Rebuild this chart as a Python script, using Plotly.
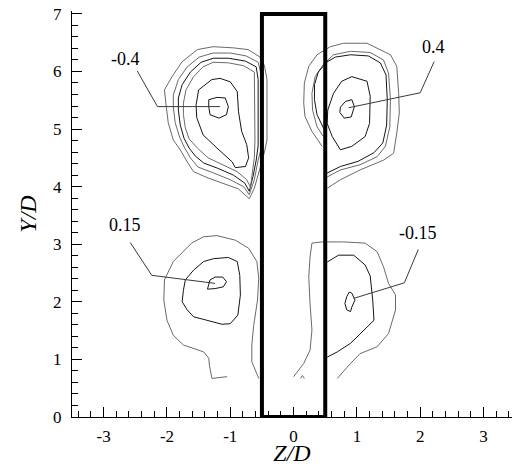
import plotly.graph_objects as go

# ---- axis ticks ----
z_ticks = [-3, -2, -1, 0, 1, 2, 3]
z_tick_text = ["-3", "-2", "-1", "0", "1", "2", "3"]
y_ticks = [0, 1, 2, 3, 4, 5, 6, 7]
y_tick_text = ["0", "1", "2", "3", "4", "5", "6", "7"]

# ---- cylinder body (Z/D extent, Y/D height) ----
body_z = [-0.5, 0.5]
body_y = [0.0, 7.0]

# ---- contour lines, (Z/D, Y/D) pairs ----
# upper-left vortex (negative)
ul_1 = [(-0.53, 6.25), (-0.72, 6.38), (-0.95, 6.41), (-1.27, 6.43), (-1.52, 6.38), (-1.76, 6.17),
        (-1.92, 5.91), (-2.04, 5.68), (-2.01, 5.38), (-1.98, 5.11), (-1.90, 4.81), (-1.79, 4.64),
        (-1.68, 4.43), (-1.58, 4.26), (-1.35, 4.15), (-1.11, 4.06), (-0.87, 3.96), (-0.70, 3.79),
        (-0.62, 3.97), (-0.53, 4.32), (-0.46, 4.60), (-0.42, 4.81), (-0.42, 5.33), (-0.42, 5.86),
        (-0.46, 6.10), (-0.53, 6.25)]
ul_2 = [(-0.56, 6.16), (-0.75, 6.27), (-1.00, 6.32), (-1.27, 6.32), (-1.49, 6.25), (-1.68, 6.08),
        (-1.82, 5.86), (-1.90, 5.59), (-1.90, 5.39), (-1.87, 5.11), (-1.80, 4.86), (-1.73, 4.69),
        (-1.63, 4.50), (-1.51, 4.34), (-1.27, 4.24), (-1.00, 4.12), (-0.79, 4.00), (-0.70, 3.86),
        (-0.62, 4.12), (-0.56, 4.46), (-0.51, 4.67), (-0.51, 5.33), (-0.51, 5.94), (-0.56, 6.16)]
ul_3 = [(-0.59, 6.08), (-0.76, 6.18), (-1.03, 6.23), (-1.27, 6.23), (-1.46, 6.16), (-1.63, 5.99),
        (-1.76, 5.77), (-1.82, 5.54), (-1.82, 5.33), (-1.79, 5.07), (-1.73, 4.84), (-1.65, 4.67),
        (-1.55, 4.53), (-1.42, 4.41), (-1.20, 4.32), (-0.95, 4.20), (-0.77, 4.06), (-0.70, 3.92),
        (-0.64, 4.18), (-0.59, 4.46), (-0.56, 4.71), (-0.56, 5.33), (-0.56, 5.86), (-0.59, 6.08)]
ul_4 = [(-0.62, 5.99), (-0.79, 6.10), (-1.03, 6.15), (-1.27, 6.16), (-1.43, 6.08), (-1.58, 5.91),
        (-1.70, 5.68), (-1.74, 5.45), (-1.74, 5.25), (-1.71, 5.02), (-1.65, 4.83), (-1.52, 4.67),
        (-1.35, 4.50), (-1.13, 4.38), (-0.89, 4.26), (-0.74, 4.12), (-0.68, 3.99), (-0.65, 4.25),
        (-0.62, 4.50), (-0.61, 4.81), (-0.61, 5.33), (-0.61, 5.77), (-0.62, 5.99)]
ul_5 = [(-1.16, 5.88), (-1.29, 5.86), (-1.50, 5.68), (-1.54, 5.42), (-1.53, 5.20), (-1.43, 4.90),
        (-1.21, 4.67), (-0.97, 4.43), (-0.92, 4.33), (-0.76, 4.35), (-0.71, 4.50), (-0.74, 4.73),
        (-0.82, 4.96), (-0.87, 5.30), (-0.89, 5.65), (-1.00, 5.82), (-1.16, 5.88)]
ul_6 = [(-1.34, 5.51), (-1.21, 5.55), (-1.08, 5.54), (-1.03, 5.39), (-1.06, 5.25), (-1.18, 5.19),
        (-1.32, 5.25), (-1.34, 5.39), (-1.34, 5.51)]

# upper-right vortex (positive)
ur_1 = [(0.45, 4.70), (0.29, 4.96), (0.18, 5.22), (0.16, 5.45), (0.17, 5.80), (0.24, 6.09),
        (0.37, 6.29), (0.58, 6.43), (0.79, 6.49), (1.16, 6.49), (1.53, 6.29), (1.63, 6.09),
        (1.66, 5.62), (1.67, 5.28), (1.63, 4.93), (1.58, 4.58), (1.42, 4.46), (1.05, 4.29),
        (0.74, 4.12), (0.53, 3.97)]
ur_2 = [(0.47, 4.87), (0.37, 5.04), (0.30, 5.33), (0.29, 5.62), (0.34, 5.91), (0.47, 6.12),
        (0.63, 6.29), (0.90, 6.35), (1.21, 6.33), (1.42, 6.20), (1.50, 5.97), (1.53, 5.51),
        (1.52, 5.04), (1.45, 4.70), (1.32, 4.52), (1.05, 4.38), (0.74, 4.29), (0.58, 4.20),
        (0.50, 4.15)]
ur_3 = [(0.48, 5.00), (0.37, 5.25), (0.33, 5.51), (0.33, 5.77), (0.39, 5.99), (0.52, 6.16),
        (0.66, 6.25), (0.90, 6.29), (1.18, 6.27), (1.37, 6.15), (1.46, 5.94), (1.48, 5.51),
        (1.47, 5.07), (1.41, 4.76), (1.27, 4.59), (1.02, 4.44), (0.74, 4.35), (0.58, 4.27),
        (0.50, 4.22)]
ur_4 = [(0.92, 5.91), (1.16, 5.83), (1.21, 5.57), (1.20, 5.10), (1.13, 4.87), (0.92, 4.70),
        (0.74, 4.64), (0.61, 4.87), (0.53, 5.10), (0.54, 5.33), (0.63, 5.62), (0.76, 5.83),
        (0.92, 5.91)]
ur_5 = [(0.74, 5.38), (0.82, 5.48), (0.92, 5.51), (0.96, 5.39), (0.91, 5.21), (0.80, 5.19),
        (0.73, 5.29), (0.74, 5.38)]

# lower-left vortex (positive)
ll_1 = [(-1.05, 0.70), (-1.29, 0.67), (-1.33, 0.90), (-1.34, 1.02), (-1.42, 1.13), (-1.74, 1.25),
        (-1.90, 1.42), (-2.00, 1.68), (-2.05, 2.03), (-2.04, 2.38), (-1.90, 2.70), (-1.61, 3.02),
        (-1.42, 3.13), (-1.21, 3.15), (-0.92, 3.07), (-0.71, 2.93), (-0.58, 2.70), (-0.55, 2.41),
        (-0.57, 2.03), (-0.63, 1.59), (-0.66, 1.25), (-0.66, 0.96), (-0.55, 0.67)]
ll_2 = [(-1.26, 2.75), (-1.03, 2.77), (-0.89, 2.70), (-0.85, 2.46), (-0.84, 2.12), (-0.88, 1.77),
        (-1.00, 1.62), (-1.13, 1.61), (-1.37, 1.68), (-1.58, 1.74), (-1.68, 1.86), (-1.76, 2.00),
        (-1.74, 2.20), (-1.71, 2.38), (-1.58, 2.55), (-1.42, 2.70), (-1.26, 2.75)]
ll_3 = [(-1.32, 2.38), (-1.24, 2.43), (-1.12, 2.43), (-1.06, 2.35), (-1.11, 2.26), (-1.24, 2.23),
        (-1.36, 2.22), (-1.34, 2.30), (-1.32, 2.38)]

# lower-right vortex (negative)
lr_1 = [(0.00, 0.70), (0.16, 0.93), (0.26, 1.16), (0.29, 1.51), (0.26, 1.97), (0.24, 2.43),
        (0.26, 2.78), (0.29, 3.02), (0.45, 3.04), (0.79, 3.04), (1.13, 3.02), (1.32, 2.87),
        (1.42, 2.61), (1.50, 2.32), (1.61, 2.12), (1.61, 1.86), (1.50, 1.45), (1.32, 1.22),
        (1.05, 1.10), (0.90, 0.93), (0.69, 0.67)]
lr_2 = [(0.53, 2.69), (0.71, 2.81), (0.95, 2.81), (1.13, 2.64), (1.21, 2.45), (1.25, 2.03),
        (1.27, 1.68), (1.11, 1.51), (0.90, 1.28), (0.69, 1.13), (0.53, 1.04)]
lr_3 = [(0.84, 2.09), (0.88, 2.17), (0.92, 2.15), (0.97, 2.03), (0.92, 1.91), (0.90, 1.83),
        (0.84, 1.86), (0.81, 1.97), (0.84, 2.09)]
lr_4 = [(0.11, 0.67), (0.14, 0.72), (0.17, 0.67)]

# ---- level labels and their leader lines ----
label_text = ["-0.4", "0.4", "0.15", "-0.15"]
label_z = [-2.66, 2.21, -2.66, 1.96]
label_y = [6.22, 6.43, 3.33, 3.19]
leader_lines = [
    [(-2.47, 6.01), (-2.15, 5.39), (-1.16, 5.39)],
    [(2.22, 6.17), (2.00, 5.63), (0.87, 5.37)],
    [(-2.58, 3.03), (-2.24, 2.46), (-1.24, 2.32)],
    [(1.97, 2.91), (1.75, 2.33), (0.95, 2.06)],
]

GRAY = "#6a6a6a"
BLACK = "#151515"
SERIF = "Liberation Serif"

contours = [
    (ul_1, GRAY), (ul_2, GRAY), (ul_3, BLACK), (ul_4, GRAY), (ul_5, BLACK), (ul_6, BLACK),
    (ur_1, GRAY), (ur_2, GRAY), (ur_3, BLACK), (ur_4, BLACK), (ur_5, BLACK),
    (ll_1, GRAY), (ll_2, BLACK), (ll_3, BLACK),
    (lr_1, GRAY), (lr_2, BLACK), (lr_3, BLACK), (lr_4, GRAY),
]

fig = go.Figure()

for pts, col in contours:
    fig.add_trace(go.Scatter(
        x=[p[0] for p in pts], y=[p[1] for p in pts], mode="lines",
        line=dict(color=col, width=1), hoverinfo="skip", showlegend=False,
    ))

for pts in leader_lines:
    fig.add_trace(go.Scatter(
        x=[p[0] for p in pts], y=[p[1] for p in pts], mode="lines",
        line=dict(color="#3a3a3a", width=1), hoverinfo="skip", showlegend=False,
    ))

# cylinder outline
fig.add_trace(go.Scatter(
    x=[body_z[0], body_z[0], body_z[1], body_z[1], body_z[0]],
    y=[body_y[0], body_y[1], body_y[1], body_y[0], body_y[0]],
    mode="lines", line=dict(color="black", width=4), hoverinfo="skip", showlegend=False,
))

for t, zx, yy in zip(label_text, label_z, label_y):
    fig.add_annotation(x=zx, y=yy, text=t, showarrow=False,
                       font=dict(family=SERIF, size=18, color="black"))

fig.update_layout(
    width=513, height=466,
    margin=dict(l=72, r=1, t=11, b=49),
    paper_bgcolor="white", plot_bgcolor="white",
    showlegend=False,
)

fig.update_xaxes(
    range=[-3.5, 3.45], tickmode="array", tickvals=z_ticks, ticktext=z_tick_text,
    showgrid=False, zeroline=False, showline=True, linecolor="black", linewidth=1,
    ticks="inside", ticklen=10, tickwidth=1, tickcolor="black", ticklabelstandoff=4,
    tickfont=dict(family=SERIF, size=17, color="black"),
    minor=dict(tick0=0, dtick=0.2, ticks="inside", ticklen=6, tickcolor="black", showgrid=False),
    title=dict(text="<i>Z/D</i>", font=dict(family=SERIF, size=24, color="black"), standoff=0),
)
fig.update_yaxes(
    range=[0, 7.05], tickmode="array", tickvals=y_ticks, ticktext=y_tick_text,
    showgrid=False, zeroline=False, showline=True, linecolor="black", linewidth=1,
    ticks="inside", ticklen=10, tickwidth=1, tickcolor="black", ticklabelstandoff=6,
    tickfont=dict(family=SERIF, size=17, color="black"),
    minor=dict(tick0=0, dtick=0.2, ticks="inside", ticklen=6, tickcolor="black", showgrid=False),
    title=dict(text="<i>Y/D</i>", font=dict(family=SERIF, size=24, color="black"), standoff=9),
)

fig.write_html("out.html")
